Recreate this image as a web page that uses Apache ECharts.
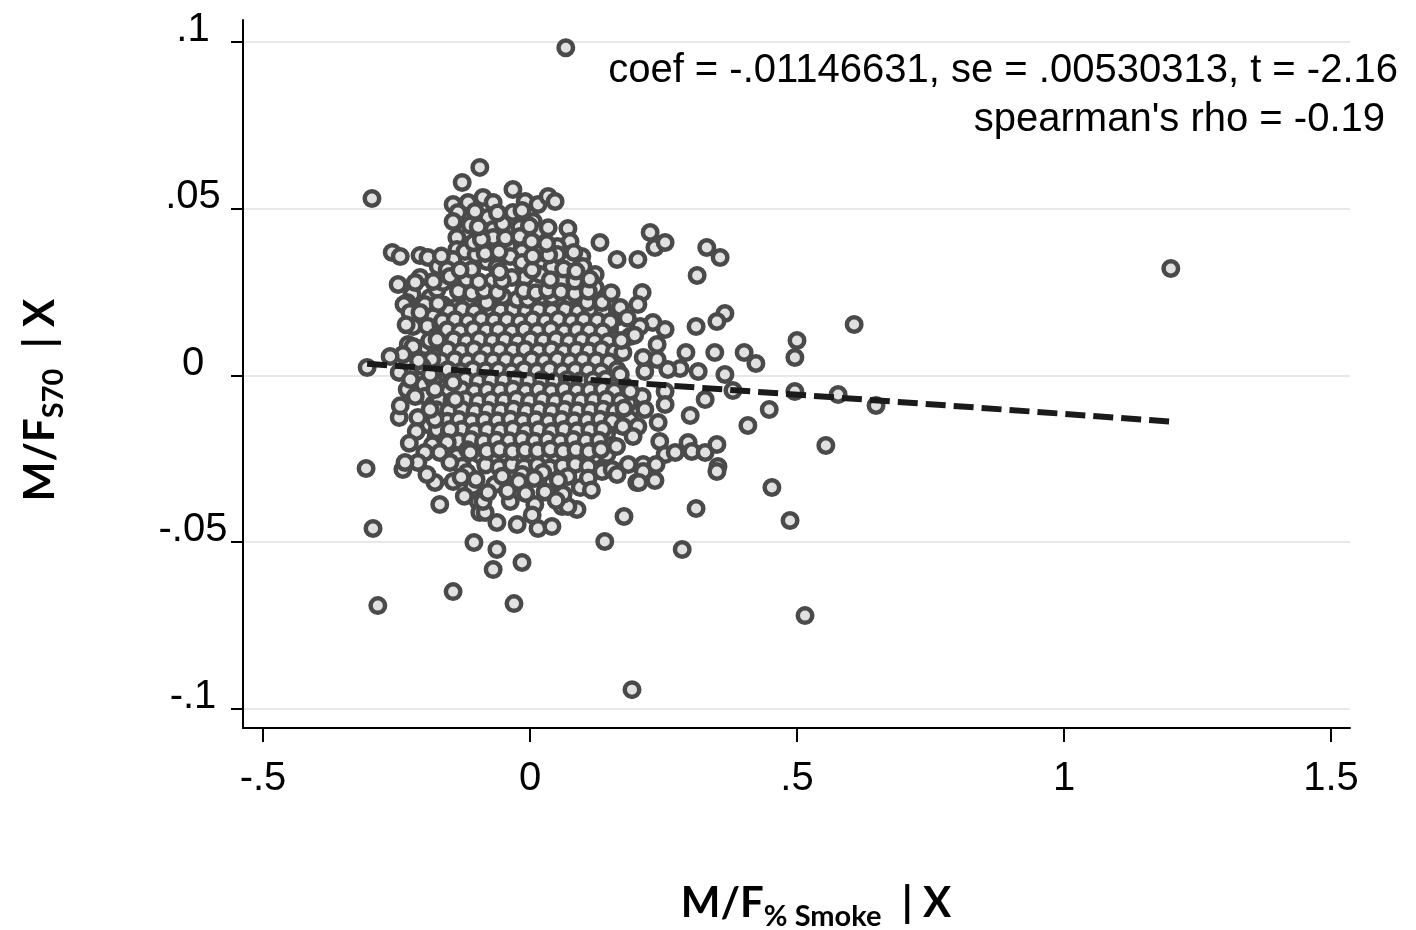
<!DOCTYPE html>
<html>
<head>
<meta charset="utf-8">
<script src="https://cdn.jsdelivr.net/npm/echarts@6/dist/echarts.min.js"></script>
<style>
  html, body { margin: 0; padding: 0; background: #fff; }
  #chart { width: 1416px; height: 930px; }
</style>
</head>
<body>
<div id="chart"></div>
<script>
// axis ticks
const xTickValues = [-0.5, 0, 0.5, 1, 1.5];
const xTickLabels = ['-.5', '0', '.5', '1', '1.5'];
const yTickValues = [-0.1, -0.05, 0, 0.05, 0.1];
const yTickLabels = ['-.1', '-.05', '0', '.05', '.1'];

// isolated points away from the main cloud
const pointsOuter = [
  [0.067, 0.0983], [-0.296, 0.0531], [1.200, 0.0321], [0.607, 0.0153], [0.500, 0.0105],
  [0.496, 0.0054], [0.401, 0.0069], [0.423, 0.0036], [0.380, -0.0045], [0.448, -0.0102],
  [0.408, -0.0150], [0.554, -0.0210], [0.350, -0.0207], [0.648, -0.0090], [0.577, -0.0057],
  [0.496, -0.0048], [-0.307, -0.0279], [-0.294, -0.0459], [-0.285, -0.0690], [-0.144, -0.0648],
  [-0.030, -0.0684], [0.191, -0.0942], [0.515, -0.0720], [0.487, -0.0435], [0.453, -0.0336],
  [0.311, -0.0399], [0.285, -0.0522], [0.140, -0.0498], [0.176, -0.0423], [0.204, -0.0321],
  [0.234, -0.0315], [0.236, -0.0267], [-0.305, 0.0024], [-0.262, 0.0057]
];

// upper part of the cloud
const pointsUpper = [
  [-0.094, 0.0624], [-0.032, 0.0558], [-0.009, 0.0522], [0.015, 0.0513], [0.034, 0.0537],
  [0.047, 0.0522], [-0.088, 0.0534], [-0.069, 0.0519], [-0.079, 0.0474], [-0.032, 0.0489],
  [0.006, 0.0462], [-0.019, 0.0444], [-0.069, 0.0438], [-0.069, 0.0414], [-0.019, 0.0417],
  [0.013, 0.0432], [0.071, 0.0441], [0.075, 0.0402], [0.131, 0.0399], [-0.041, 0.0387],
  [-0.015, 0.0372], [0.022, 0.0381], [0.051, 0.0387], [0.051, 0.0363], [-0.081, 0.0342],
  [-0.037, 0.0357], [-0.015, 0.0339], [0.022, 0.0327], [0.041, 0.0324], [0.097, 0.0357],
  [0.099, 0.0327], [0.122, 0.0303], [0.071, 0.0297], [0.060, 0.0282], [0.019, 0.0303],
  [-0.009, 0.0294], [-0.034, 0.0294], [-0.071, 0.0282], [0.122, 0.0264], [0.097, 0.0273],
  [-0.051, 0.0237], [-0.024, 0.0228], [-0.004, 0.0228], [0.022, 0.0237], [0.041, 0.0237],
  [0.075, 0.0237], [0.107, 0.0219], [0.135, 0.0219], [-0.081, 0.0219],
  [-0.127, 0.0579], [-0.116, 0.0519], [-0.144, 0.0513], [-0.135, 0.0489], [-0.144, 0.0462],
  [-0.122, 0.0432], [-0.137, 0.0414], [-0.258, 0.0369], [-0.243, 0.0357], [-0.206, 0.0360],
  [-0.191, 0.0354], [-0.172, 0.0327], [-0.137, 0.0378], [-0.122, 0.0372], [-0.144, 0.0348],
  [-0.155, 0.0318], [-0.247, 0.0273], [-0.221, 0.0243], [-0.206, 0.0294], [-0.215, 0.0279],
  [-0.230, 0.0219], [-0.187, 0.0234], [-0.174, 0.0258], [-0.163, 0.0279], [-0.150, 0.0297],
  [-0.236, 0.0213], [-0.197, 0.0213], [-0.172, 0.0216],
  [-0.134, 0.0253], [-0.109, 0.0247], [-0.086, 0.0255], [-0.061, 0.0249], [-0.012, 0.0254],
  [0.011, 0.0248], [0.033, 0.0256], [0.058, 0.0251], [0.084, 0.0246], [0.109, 0.0253],
  [0.152, 0.0248], [-0.119, 0.0288], [-0.096, 0.0281], [-0.052, 0.0284], [0.038, 0.0287],
  [0.084, 0.0283], [0.112, 0.0289], [-0.181, 0.0282], [-0.109, 0.0318], [-0.062, 0.0324],
  [-0.057, 0.0311], [0.004, 0.0316], [0.063, 0.0319], [0.086, 0.0313], [-0.131, 0.0316],
  [-0.101, 0.0362], [-0.084, 0.0366], [-0.058, 0.0371], [0.005, 0.0358], [0.035, 0.0361],
  [0.082, 0.0369], [-0.166, 0.0358], [-0.106, 0.0398], [-0.091, 0.0408], [-0.046, 0.0412],
  [0.031, 0.0396], [0.003, 0.0402], [-0.112, 0.0451], [-0.097, 0.0446], [-0.051, 0.0455],
  [-0.001, 0.0448], [0.034, 0.0443], [-0.103, 0.0492], [-0.061, 0.0487], [-0.015, 0.0495]
];

// right side of the cloud
const pointsRight = [
  [0.225, 0.0429], [0.234, 0.0384], [0.253, 0.0399], [0.331, 0.0384], [0.356, 0.0354],
  [0.313, 0.0300], [0.163, 0.0348], [0.202, 0.0348], [0.210, 0.0249], [0.202, 0.0213],
  [0.169, 0.0204], [0.365, 0.0186], [0.350, 0.0162], [0.311, 0.0147], [0.230, 0.0159],
  [0.253, 0.0138], [0.206, 0.0147], [0.187, 0.0117], [0.238, 0.0093], [0.292, 0.0069],
  [0.346, 0.0069], [0.315, 0.0012], [0.365, 0.0003], [0.281, 0.0021], [0.258, 0.0018],
  [0.238, 0.0048], [0.215, 0.0012], [0.212, 0.0054], [0.174, 0.0069], [0.169, 0.0003],
  [0.253, -0.0048], [0.210, -0.0063], [0.253, -0.0087], [0.328, -0.0072], [0.215, -0.0102],
  [0.300, -0.0120], [0.187, -0.0132], [0.174, -0.0153], [0.202, -0.0153], [0.240, -0.0141],
  [0.243, -0.0198], [0.253, -0.0237], [0.272, -0.0231], [0.296, -0.0201], [0.303, -0.0228],
  [0.328, -0.0231], [0.352, -0.0273], [0.184, -0.0267], [0.212, -0.0267], [0.154, -0.0282],
  [0.163, -0.0297], [0.200, -0.0321], [0.212, -0.0288], [0.350, -0.0288],
  [0.182, 0.0172], [0.196, 0.0121], [0.188, -0.0047], [0.176, -0.0098], [0.193, -0.0183],
  [0.162, -0.0213], [0.171, 0.0105]
];

// left side of the cloud
const pointsLeft = [
  [-0.245, 0.0009], [-0.230, -0.0042], [-0.215, -0.0063], [-0.245, -0.0126], [-0.210, -0.0126],
  [-0.178, -0.0132], [-0.225, 0.0189], [-0.206, 0.0189], [-0.219, 0.0147], [-0.228, 0.0093],
  [-0.219, 0.0087], [-0.174, 0.0108], [-0.184, 0.0048], [-0.202, 0.0027], [-0.187, 0.0003],
  [-0.178, -0.0042], [-0.187, -0.0102], [-0.150, -0.0162], [-0.155, -0.0201], [-0.169, -0.0231],
  [-0.197, -0.0231], [-0.210, -0.0261], [-0.234, -0.0261], [-0.150, -0.0261], [-0.112, -0.0231],
  [-0.140, -0.0072], [-0.144, -0.0021], [-0.232, 0.0152], [-0.238, 0.0063], [-0.224, -0.0012],
  [-0.243, -0.0091], [-0.213, -0.0168], [-0.226, -0.0203], [-0.209, 0.0044]
];

// lower part of the cloud
const pointsLower = [
  [-0.105, -0.0501], [-0.062, -0.0522], [-0.069, -0.0582], [-0.015, -0.0561], [-0.024, -0.0447],
  [0.015, -0.0459], [0.041, -0.0453], [-0.062, -0.0441], [-0.169, -0.0387], [-0.178, -0.0321],
  [-0.144, -0.0318], [-0.193, -0.0297], [-0.118, -0.0291], [-0.107, -0.0333], [-0.097, -0.0378],
  [-0.094, -0.0411], [-0.238, -0.0282], [-0.084, -0.0411], [-0.037, -0.0378], [0.009, -0.0387],
  [0.060, -0.0393], [0.088, -0.0402], [0.071, -0.0393], [0.094, -0.0336], [0.041, -0.0321],
  [0.071, -0.0303], [-0.066, -0.0327], [-0.015, -0.0297], [0.024, -0.0291], [0.135, -0.0288],
  [-0.088, -0.0378],
  [-0.129, -0.0305], [-0.101, -0.0312], [-0.052, -0.0302], [-0.021, -0.0318], [0.008, -0.0309],
  [0.053, -0.0314], [0.109, -0.0307], [-0.079, -0.0351], [-0.042, -0.0346], [-0.008, -0.0354],
  [0.028, -0.0349], [0.062, -0.0356], [0.115, -0.0343], [-0.123, -0.0362], [0.004, -0.0418],
  [0.049, -0.0375]
];

// dense core of the cloud
const pointsCore = [
  [-0.163, 0.0212], [-0.139, 0.0205], [-0.114, 0.0214], [-0.092, 0.0208], [-0.066, 0.0203], [-0.043, 0.0211], [-0.018, 0.0206], [0.004, 0.0214], [0.028, 0.0201], [0.053, 0.0209], [0.079, 0.0204], [0.101, 0.0212], [0.126, 0.0198], [0.148, 0.0207],
  [-0.181, 0.0176], [-0.152, 0.0183], [-0.128, 0.0178], [-0.103, 0.0185], [-0.079, 0.0174], [-0.055, 0.0181], [-0.031, 0.0177], [-0.006, 0.0184], [0.017, 0.0173], [0.041, 0.0182], [0.066, 0.0176], [0.089, 0.0183], [0.114, 0.0171], [0.139, 0.0179], [0.161, 0.0174],
  [-0.192, 0.0148], [-0.167, 0.0153], [-0.143, 0.0146], [-0.118, 0.0155], [-0.094, 0.0149], [-0.071, 0.0144], [-0.046, 0.0152], [-0.022, 0.0147], [0.002, 0.0154], [0.026, 0.0145], [0.052, 0.0151], [0.076, 0.0143], [0.099, 0.0152], [0.123, 0.0147], [0.149, 0.0141],
  [-0.176, 0.0117], [-0.154, 0.0124], [-0.131, 0.0115], [-0.107, 0.0122], [-0.083, 0.0118], [-0.058, 0.0125], [-0.035, 0.0116], [-0.011, 0.0121], [0.013, 0.0114], [0.037, 0.0123], [0.061, 0.0119], [0.085, 0.0112], [0.109, 0.0121], [0.134, 0.0116], [0.158, 0.0109],
  [-0.196, 0.0086], [-0.165, 0.0092], [-0.141, 0.0087], [-0.117, 0.0094], [-0.093, 0.0088], [-0.069, 0.0083], [-0.044, 0.0091], [-0.021, 0.0086], [0.004, 0.0093], [0.028, 0.0084], [0.051, 0.0089], [0.075, 0.0095], [0.098, 0.0085], [0.122, 0.0091], [0.146, 0.0083], [0.167, 0.0088],
  [-0.179, 0.0058], [-0.153, 0.0063], [-0.129, 0.0056], [-0.106, 0.0061], [-0.081, 0.0054], [-0.057, 0.0062], [-0.033, 0.0057], [-0.009, 0.0064], [0.015, 0.0055], [0.039, 0.0061], [0.063, 0.0053], [0.087, 0.0059], [0.111, 0.0064], [0.136, 0.0052], [0.157, 0.0058],
  [-0.191, 0.0027], [-0.166, 0.0032], [-0.142, 0.0025], [-0.119, 0.0033], [-0.095, 0.0028], [-0.072, 0.0022], [-0.047, 0.0031], [-0.023, 0.0026], [0.001, 0.0034], [0.025, 0.0023], [0.049, 0.0029], [0.072, 0.0024], [0.097, 0.0033], [0.121, 0.0027], [0.145, 0.0021],
  [-0.168, -0.0004], [-0.131, 0.0005], [-0.108, -0.0003], [-0.083, 0.0004], [-0.059, -0.0006], [-0.036, 0.0002], [-0.012, -0.0005], [0.012, 0.0003], [0.036, -0.0002], [0.060, 0.0006], [0.084, -0.0004], [0.108, 0.0002], [0.133, -0.0007], [0.155, 0.0004],
  [-0.199, -0.0028], [-0.157, -0.0033], [-0.134, -0.0026], [-0.110, -0.0035], [-0.086, -0.0029], [-0.062, -0.0024], [-0.038, -0.0032], [-0.015, -0.0027], [0.009, -0.0036], [0.033, -0.0025], [0.057, -0.0031], [0.081, -0.0026], [0.104, -0.0034], [0.127, -0.0028], [0.151, -0.0023], [0.176, -0.0031],
  [-0.196, -0.0062], [-0.165, -0.0057], [-0.147, -0.0064], [-0.122, -0.0056], [-0.098, -0.0063], [-0.074, -0.0058], [-0.051, -0.0065], [-0.027, -0.0054], [-0.003, -0.0061], [0.021, -0.0057], [0.045, -0.0066], [0.069, -0.0055], [0.093, -0.0062], [0.117, -0.0058], [0.141, -0.0064], [0.163, -0.0056],
  [-0.181, -0.0087], [-0.158, -0.0094], [-0.133, -0.0088], [-0.109, -0.0093], [-0.085, -0.0085], [-0.061, -0.0092], [-0.037, -0.0086], [-0.013, -0.0095], [0.011, -0.0084], [0.035, -0.0091], [0.059, -0.0087], [0.083, -0.0094], [0.106, -0.0085], [0.131, -0.0092], [0.155, -0.0088], [0.184, -0.0083],
  [-0.164, -0.0118], [-0.145, -0.0124], [-0.121, -0.0116], [-0.097, -0.0123], [-0.073, -0.0117], [-0.049, -0.0125], [-0.025, -0.0114], [-0.001, -0.0121], [0.023, -0.0118], [0.047, -0.0126], [0.071, -0.0115], [0.095, -0.0122], [0.119, -0.0117], [0.143, -0.0124], [0.166, -0.0113],
  [-0.189, -0.0148], [-0.163, -0.0153], [-0.132, -0.0146], [-0.108, -0.0155], [-0.084, -0.0149], [-0.061, -0.0144], [-0.036, -0.0152], [-0.012, -0.0147], [0.012, -0.0156], [0.036, -0.0145], [0.059, -0.0151], [0.083, -0.0147], [0.107, -0.0154], [0.131, -0.0143], [0.154, -0.0149],
  [-0.176, -0.0184], [-0.141, -0.0178], [-0.119, -0.0186], [-0.095, -0.0176], [-0.072, -0.0183], [-0.047, -0.0177], [-0.024, -0.0185], [0.001, -0.0174], [0.024, -0.0182], [0.048, -0.0179], [0.072, -0.0186], [0.095, -0.0175], [0.119, -0.0183], [0.143, -0.0177],
  [-0.183, -0.0208], [-0.128, -0.0213], [-0.103, -0.0206], [-0.081, -0.0214], [-0.057, -0.0205], [-0.034, -0.0211], [-0.009, -0.0207], [0.014, -0.0215], [0.038, -0.0204], [0.061, -0.0212], [0.086, -0.0206], [0.108, -0.0213], [0.131, -0.0203], [0.153, -0.0209],
  [-0.137, -0.0243], [-0.094, -0.0238], [-0.069, -0.0246], [-0.046, -0.0237], [-0.022, -0.0244], [0.002, -0.0236], [0.026, -0.0245], [0.049, -0.0239], [0.074, -0.0247], [0.097, -0.0235], [0.121, -0.0242], [0.144, -0.0237],
  [-0.127, -0.0272], [-0.083, -0.0268], [-0.058, -0.0276], [-0.034, -0.0267], [-0.011, -0.0274], [0.014, -0.0269], [0.037, -0.0277], [0.061, -0.0271], [0.085, -0.0266], [0.109, -0.0273]
];

// second layer of the dense core, sitting between the rows above
const pointsCoreInner = [
  [-0.151, 0.0193], [-0.127, 0.0198], [-0.104, 0.0191], [-0.079, 0.0197], [-0.055, 0.0194], [-0.031, 0.0199], [-0.007, 0.0192], [0.016, 0.0196], [0.041, 0.0193], [0.066, 0.0198], [0.090, 0.0191], [0.113, 0.0195], [0.137, 0.0192],
  [-0.164, 0.0163], [-0.140, 0.0167], [-0.116, 0.0162], [-0.091, 0.0168], [-0.067, 0.0164], [-0.043, 0.0166], [-0.019, 0.0161], [0.005, 0.0167], [0.029, 0.0163], [0.053, 0.0168], [0.078, 0.0162], [0.101, 0.0166], [0.126, 0.0164], [0.150, 0.0161],
  [-0.155, 0.0137], [-0.131, 0.0132], [-0.106, 0.0138], [-0.082, 0.0134], [-0.059, 0.0136], [-0.034, 0.0131], [-0.010, 0.0137], [0.014, 0.0133], [0.039, 0.0138], [0.064, 0.0132], [0.088, 0.0136], [0.111, 0.0134], [0.136, 0.0131],
  [-0.188, 0.0104], [-0.143, 0.0107], [-0.119, 0.0102], [-0.095, 0.0108], [-0.070, 0.0103], [-0.047, 0.0106], [-0.023, 0.0101], [0.001, 0.0107], [0.025, 0.0104], [0.049, 0.0108], [0.073, 0.0102], [0.097, 0.0106], [0.121, 0.0103], [0.146, 0.0101],
  [-0.154, 0.0077], [-0.129, 0.0073], [-0.105, 0.0078], [-0.081, 0.0072], [-0.057, 0.0076], [-0.032, 0.0074], [-0.009, 0.0078], [0.016, 0.0073], [0.040, 0.0077], [0.063, 0.0072], [0.087, 0.0076], [0.110, 0.0074], [0.134, 0.0078], [0.158, 0.0071],
  [-0.166, 0.0043], [-0.141, 0.0047], [-0.117, 0.0042], [-0.093, 0.0048], [-0.069, 0.0044], [-0.045, 0.0046], [-0.021, 0.0041], [0.003, 0.0047], [0.027, 0.0043], [0.051, 0.0048], [0.075, 0.0042], [0.099, 0.0046], [0.124, 0.0044], [0.148, 0.0041],
  [-0.179, 0.0013], [-0.154, 0.0017], [-0.130, 0.0012], [-0.107, 0.0018], [-0.083, 0.0014], [-0.059, 0.0016], [-0.035, 0.0011], [-0.011, 0.0017], [0.013, 0.0013], [0.037, 0.0018], [0.061, 0.0012], [0.085, 0.0016], [0.109, 0.0014], [0.133, 0.0011], [0.163, 0.0017],
  [-0.181, -0.0013], [-0.146, -0.0017], [-0.121, -0.0012], [-0.097, -0.0018], [-0.073, -0.0014], [-0.049, -0.0016], [-0.025, -0.0011], [-0.002, -0.0017], [0.022, -0.0013], [0.046, -0.0018], [0.070, -0.0012], [0.094, -0.0016], [0.118, -0.0014], [0.142, -0.0011], [0.166, -0.0017],
  [-0.178, -0.0043], [-0.152, -0.0047], [-0.128, -0.0042], [-0.104, -0.0048], [-0.080, -0.0044], [-0.056, -0.0046], [-0.032, -0.0041], [-0.008, -0.0047], [0.016, -0.0043], [0.040, -0.0048], [0.064, -0.0042], [0.088, -0.0046], [0.112, -0.0044], [0.136, -0.0041], [0.158, -0.0047],
  [-0.170, -0.0073], [-0.146, -0.0077], [-0.121, -0.0072], [-0.097, -0.0078], [-0.073, -0.0074], [-0.049, -0.0076], [-0.025, -0.0071], [-0.001, -0.0077], [0.023, -0.0073], [0.047, -0.0078], [0.071, -0.0072], [0.095, -0.0076], [0.119, -0.0074], [0.143, -0.0071], [0.169, -0.0077],
  [-0.175, -0.0103], [-0.152, -0.0107], [-0.127, -0.0102], [-0.103, -0.0108], [-0.079, -0.0104], [-0.055, -0.0106], [-0.031, -0.0101], [-0.007, -0.0107], [0.017, -0.0103], [0.041, -0.0108], [0.065, -0.0102], [0.089, -0.0106], [0.113, -0.0104], [0.137, -0.0101], [0.159, -0.0107],
  [-0.176, -0.0133], [-0.155, -0.0137], [-0.133, -0.0132], [-0.109, -0.0138], [-0.085, -0.0134], [-0.061, -0.0136], [-0.037, -0.0131], [-0.013, -0.0137], [0.011, -0.0133], [0.035, -0.0138], [0.059, -0.0132], [0.083, -0.0136], [0.107, -0.0134], [0.131, -0.0131], [0.154, -0.0137],
  [-0.174, -0.0163], [-0.151, -0.0167], [-0.128, -0.0162], [-0.104, -0.0168], [-0.080, -0.0164], [-0.056, -0.0166], [-0.032, -0.0161], [-0.008, -0.0167], [0.016, -0.0163], [0.040, -0.0168], [0.064, -0.0162], [0.088, -0.0166], [0.112, -0.0164], [0.136, -0.0161],
  [-0.158, -0.0193], [-0.134, -0.0197], [-0.111, -0.0192], [-0.087, -0.0198], [-0.063, -0.0194], [-0.039, -0.0196], [-0.015, -0.0191], [0.009, -0.0197], [0.033, -0.0193], [0.057, -0.0198], [0.081, -0.0192], [0.105, -0.0196], [0.129, -0.0194],
  [-0.117, -0.0223], [-0.081, -0.0227], [-0.057, -0.0222], [-0.033, -0.0228], [-0.009, -0.0224], [0.014, -0.0226], [0.038, -0.0221], [0.062, -0.0227], [0.086, -0.0223], [0.110, -0.0228], [0.133, -0.0222]
];

// fitted line endpoints (coef = -.01146631)
const fitLine = [[-0.305, 0.0035], [1.2, -0.0138]];

const statLine1 = 'coef = -.01146631, se = .00530313, t = -2.16';
const statLine2 = "spearman's rho = -0.19";

const allPoints = [].concat(pointsCore, pointsCoreInner, pointsUpper, pointsLower, pointsLeft, pointsRight, pointsOuter);

function labelFor(values, labels) {
  return function (v) {
    const i = values.findIndex(t => Math.abs(t - v) < 1e-9);
    return i >= 0 ? labels[i] : '';
  };
}

const chart = echarts.init(document.getElementById('chart'));
const tickFont = 'Liberation Sans, Arial, sans-serif';
const titleFont = 'Lato, Open Sans, sans-serif';

const titleRich = {
  a: { fontFamily: titleFont, fontWeight: 'bold', fontSize: 42, lineHeight: 56, fill: '#000' },
  b: { fontFamily: titleFont, fontWeight: 'bold', fontSize: 29, lineHeight: 32, verticalAlign: 'bottom', fill: '#000' }
};

const option = {
  animation: false,
  backgroundColor: '#fff',
  grid: { left: 243, right: 66, top: 20, bottom: 202 },
  xAxis: {
    type: 'value',
    min: -0.5375,
    max: 1.5356,
    axisLine: { onZero: false, lineStyle: { color: '#000', width: 2 } },
    axisTick: { customValues: xTickValues, length: 14, lineStyle: { color: '#000', width: 2 } },
    axisLabel: {
      customValues: xTickValues,
      formatter: labelFor(xTickValues, xTickLabels),
      color: '#000', fontFamily: tickFont, fontSize: 40, margin: 31
    },
    splitLine: { show: false }
  },
  yAxis: {
    type: 'value',
    min: -0.1057,
    max: 0.1066,
    axisLine: { onZero: false, lineStyle: { color: '#000', width: 2 } },
    axisTick: { customValues: yTickValues, length: 12, lineStyle: { color: '#000', width: 2 } },
    axisLabel: {
      customValues: yTickValues,
      formatter: labelFor(yTickValues, yTickLabels),
      color: '#000', fontFamily: tickFont, fontSize: 40, margin: 50,
      align: 'center', verticalAlign: 'bottom', lineHeight: 24
    },
    splitLine: { show: true, lineStyle: { color: '#e8e8e8', width: 2 } }
  },
  series: [
    {
      type: 'scatter',
      data: allPoints,
      symbol: 'circle',
      symbolSize: 14.5,
      itemStyle: { color: '#e1e1e1', borderColor: '#4a4a4a', borderWidth: 4.5, opacity: 1 },
      z: 2
    },
    {
      type: 'line',
      data: fitLine,
      symbol: 'none',
      lineStyle: { color: '#1a1a1a', width: 6, type: [20, 8], cap: 'butt' },
      z: 3
    }
  ],
  graphic: [
    {
      type: 'text', right: 18, top: 51,
      style: { text: statLine1, font: '40px Liberation Sans, Arial, sans-serif', fill: '#000' }
    },
    {
      type: 'text', right: 31, top: 100,
      style: { text: statLine2, font: '40px Liberation Sans, Arial, sans-serif', fill: '#000' }
    },
    {
      type: 'text', x: 816, y: 903,
      style: {
        text: '{a|M/F}{b|% Smoke}{a|  | X}',
        align: 'center', verticalAlign: 'middle',
        rich: titleRich
      }
    },
    {
      type: 'text', x: 40, y: 400, rotation: Math.PI / 2,
      style: {
        text: '{a|M/F}{b|S70}{a|  | X}',
        align: 'center', verticalAlign: 'middle',
        rich: titleRich
      }
    }
  ]
};

chart.setOption(option);
</script>
</body>
</html>
